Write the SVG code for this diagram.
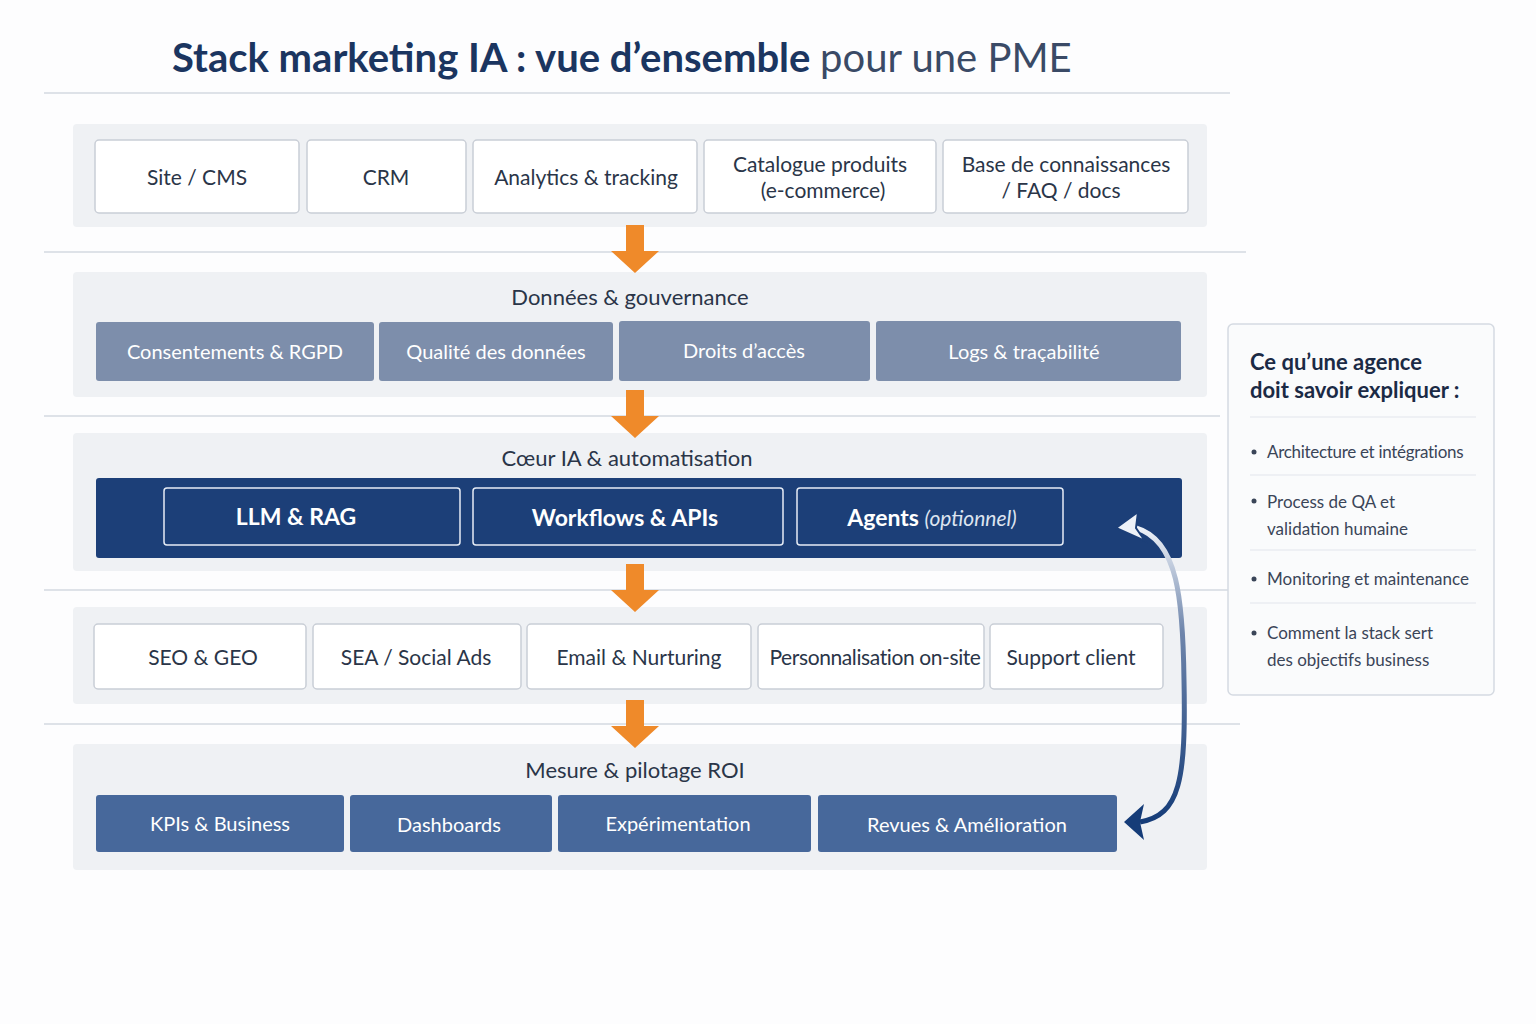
<svg xmlns="http://www.w3.org/2000/svg" width="1536" height="1024" viewBox="0 0 1536 1024">
<defs>
<style>
text{font-family:Lato,"Open Sans","Liberation Sans",sans-serif;text-anchor:middle;dominant-baseline:central}
.band{fill:#eff1f4}
.sep{stroke:#d3d8e0;stroke-width:1.5}
.w{fill:#fff;stroke:#c9ced6;stroke-width:1.5}
.wt{fill:#2a3548;font-size:21px}
.g{fill:#7d8eab}
.gt{fill:#fff;font-size:20px}
.nv{fill:#1c3f78;stroke:#e6ecf5;stroke-width:1.5}
.nt{fill:#fff;font-size:23px;font-weight:bold}
.b{fill:#47689b}
.hd{fill:#2a3548;font-size:22px}
.side{fill:#3a4558;font-size:17px;text-anchor:start}
.orange{fill:#ef8a2a}
.head{fill:#153c78}
</style>
<linearGradient id="ag" x1="0" y1="0" x2="0" y2="1"><stop offset="0" stop-color="#eef2f8"/><stop offset="0.35" stop-color="#6f86ac"/><stop offset="1" stop-color="#153c78"/></linearGradient>
<symbol id="oa" viewBox="0 0 48 48"><path d="M15,0H33V26H48L24,48L0,26H15Z" class="orange"/></symbol>
</defs>
<rect width="1536" height="1024" fill="#fdfdfe"/>
<text x="172" y="57" style="text-anchor:start;font-size:40px;font-weight:bold" fill="#1b3560">Stack marketing IA : vue d’ensemble <tspan font-weight="normal" fill="#3a4a66">pour une PME</tspan></text>
<line x1="44" y1="93" x2="1230" y2="93" class="sep"/>
<g id="sep-lines">
<line x1="44" y1="252" x2="1246" y2="252" class="sep"/>
<line x1="44" y1="416" x2="1220" y2="416" class="sep"/>
<line x1="44" y1="590" x2="1230" y2="590" class="sep"/>
<line x1="44" y1="724" x2="1240" y2="724" class="sep"/>
</g>
<rect class="band" x="73" y="124" width="1134" height="103" rx="4"/>
<rect class="band" x="73" y="272" width="1134" height="125" rx="4"/>
<rect class="band" x="73" y="433" width="1134" height="138" rx="4"/>
<rect class="band" x="73" y="607" width="1134" height="97" rx="4"/>
<rect class="band" x="73" y="744" width="1134" height="126" rx="4"/>

<g id="sources">
<g id="n-site"><rect class="w" x="95" y="140" width="204" height="73" rx="4"/><text class="wt" x="197" y="176">Site / CMS</text></g>
<g id="n-crm"><rect class="w" x="307" y="140" width="159" height="73" rx="4"/><text class="wt" x="386" y="176">CRM</text></g>
<g id="n-analytics"><rect class="w" x="473" y="140" width="224" height="73" rx="4"/><text class="wt" x="586" y="176" font-size="20">Analytics &amp; tracking</text></g>
<g id="n-catalogue"><rect class="w" x="704" y="140" width="232" height="73" rx="4"/><text class="wt" x="820" y="163">Catalogue produits</text><text class="wt" x="823" y="189" font-size="19">(e-commerce)</text></g>
<g id="n-kb"><rect class="w" x="943" y="140" width="245" height="73" rx="4"/><text class="wt" x="1066" y="163" font-size="20">Base de connaissances</text><text class="wt" x="1061" y="189" font-size="20">/ FAQ / docs</text></g>
</g>

<g id="data">
<text class="hd" x="630" y="296">Données &amp; gouvernance</text>
<g id="n-consent"><rect class="g" x="96" y="322" width="278" height="59" rx="3"/><text class="gt" x="235" y="351">Consentements &amp; RGPD</text></g>
<g id="n-qualite"><rect class="g" x="379" y="322" width="234" height="59" rx="3"/><text class="gt" x="496" y="351">Qualité des données</text></g>
<g id="n-droits"><rect class="g" x="619" y="321" width="251" height="60" rx="3"/><text class="gt" x="744" y="350">Droits d’accès</text></g>
<g id="n-logs"><rect class="g" x="876" y="321" width="305" height="60" rx="3"/><text class="gt" x="1024" y="351">Logs &amp; traçabilité</text></g>
</g>

<g id="core">
<text class="hd" x="627" y="457">Cœur IA &amp; automatisation</text>
<rect x="96" y="478" width="1086" height="80" rx="3" fill="#1c3f78"/>
<g id="n-llm"><rect class="nv" x="164" y="488" width="296" height="57" rx="3"/><text class="nt" x="296" y="516" font-size="25">LLM &amp; RAG</text></g>
<g id="n-workflows"><rect class="nv" x="473" y="488" width="310" height="57" rx="3"/><text class="nt" x="625" y="517">Workflows &amp; APIs</text></g>
<g id="n-agents"><rect class="nv" x="797" y="488" width="266" height="57" rx="3"/><text class="nt" x="932" y="517">Agents <tspan font-style="italic" font-weight="normal" font-size="21" fill="#dde4f0">(optionnel)</tspan></text></g>
</g>

<g id="channels">
<g id="n-seo"><rect class="w" x="94" y="624" width="212" height="65" rx="4"/><text class="wt" x="203" y="656">SEO &amp; GEO</text></g>
<g id="n-sea"><rect class="w" x="313" y="624" width="208" height="65" rx="4"/><text class="wt" x="416" y="656">SEA / Social Ads</text></g>
<g id="n-email"><rect class="w" x="527" y="624" width="224" height="65" rx="4"/><text class="wt" x="639" y="656">Email &amp; Nurturing</text></g>
<g id="n-perso"><rect class="w" x="758" y="624" width="226" height="65" rx="4"/><text class="wt" x="875" y="656" font-size="17" letter-spacing="-0.4">Personnalisation on-site</text></g>
<g id="n-support"><rect class="w" x="990" y="624" width="173" height="65" rx="4"/><text class="wt" x="1071" y="656" font-size="20">Support client</text></g>
</g>

<g id="measure">
<text class="hd" x="635" y="769">Mesure &amp; pilotage ROI</text>
<g id="n-kpi"><rect class="b" x="96" y="795" width="248" height="57" rx="3"/><text class="gt" x="220" y="823">KPIs &amp; Business</text></g>
<g id="n-dash"><rect class="b" x="350" y="795" width="202" height="57" rx="3"/><text class="gt" x="449" y="824">Dashboards</text></g>
<g id="n-exp"><rect class="b" x="558" y="795" width="253" height="57" rx="3"/><text class="gt" x="678" y="823">Expérimentation</text></g>
<g id="n-revues"><rect class="b" x="818" y="795" width="299" height="57" rx="3"/><text class="gt" x="967" y="824">Revues &amp; Amélioration</text></g>
</g>

<g id="connectors">
<use href="#oa" x="611" y="225" width="48" height="48"/>
<use href="#oa" x="611" y="390" width="48" height="48"/>
<use href="#oa" x="611" y="564" width="48" height="48"/>
<use href="#oa" x="611" y="700" width="48" height="48"/>
<path d="M1136,528 C1178,540 1183,600 1184,680 C1186,780 1180,815 1140,822" fill="none" stroke="url(#ag)" stroke-width="5"/>
<path d="M1116,528 L1138,512 L1136,528 L1145,541 Z" fill="#eef2f8" stroke="#1c3f78" stroke-width="2"/>
<path d="M1124,822 L1144,804 L1140,822 L1144,840 Z" class="head"/>
</g>

<g id="side-panel">
<rect x="1228" y="324" width="266" height="371" rx="5" fill="#fafbfc" stroke="#d5dae2" stroke-width="1.5"/>
<text x="1250" y="361" style="text-anchor:start;font-size:22px;font-weight:bold" fill="#1b2a45">Ce qu’une agence</text>
<text x="1250" y="389" style="text-anchor:start;font-size:22px;font-weight:bold" fill="#1b2a45">doit savoir expliquer :</text>
<g stroke="#e1e5eb" stroke-width="1.2"><line x1="1250" y1="417" x2="1476" y2="417"/><line x1="1250" y1="475" x2="1476" y2="475"/><line x1="1250" y1="550" x2="1476" y2="550"/><line x1="1250" y1="603" x2="1476" y2="603"/></g>
<g fill="#3a4558"><circle cx="1254" cy="452" r="2.5"/><circle cx="1254" cy="501" r="2.5"/><circle cx="1254" cy="579" r="2.5"/><circle cx="1254" cy="633" r="2.5"/></g>
<text class="side" x="1267" y="451" letter-spacing="-0.3">Architecture et intégrations</text>
<text class="side" x="1267" y="501">Process de QA et</text>
<text class="side" x="1267" y="528">validation humaine</text>
<text class="side" x="1267" y="578">Monitoring et maintenance</text>
<text class="side" x="1267" y="632">Comment la stack sert</text>
<text class="side" x="1267" y="659">des objectifs business</text>
</g>
</svg>
